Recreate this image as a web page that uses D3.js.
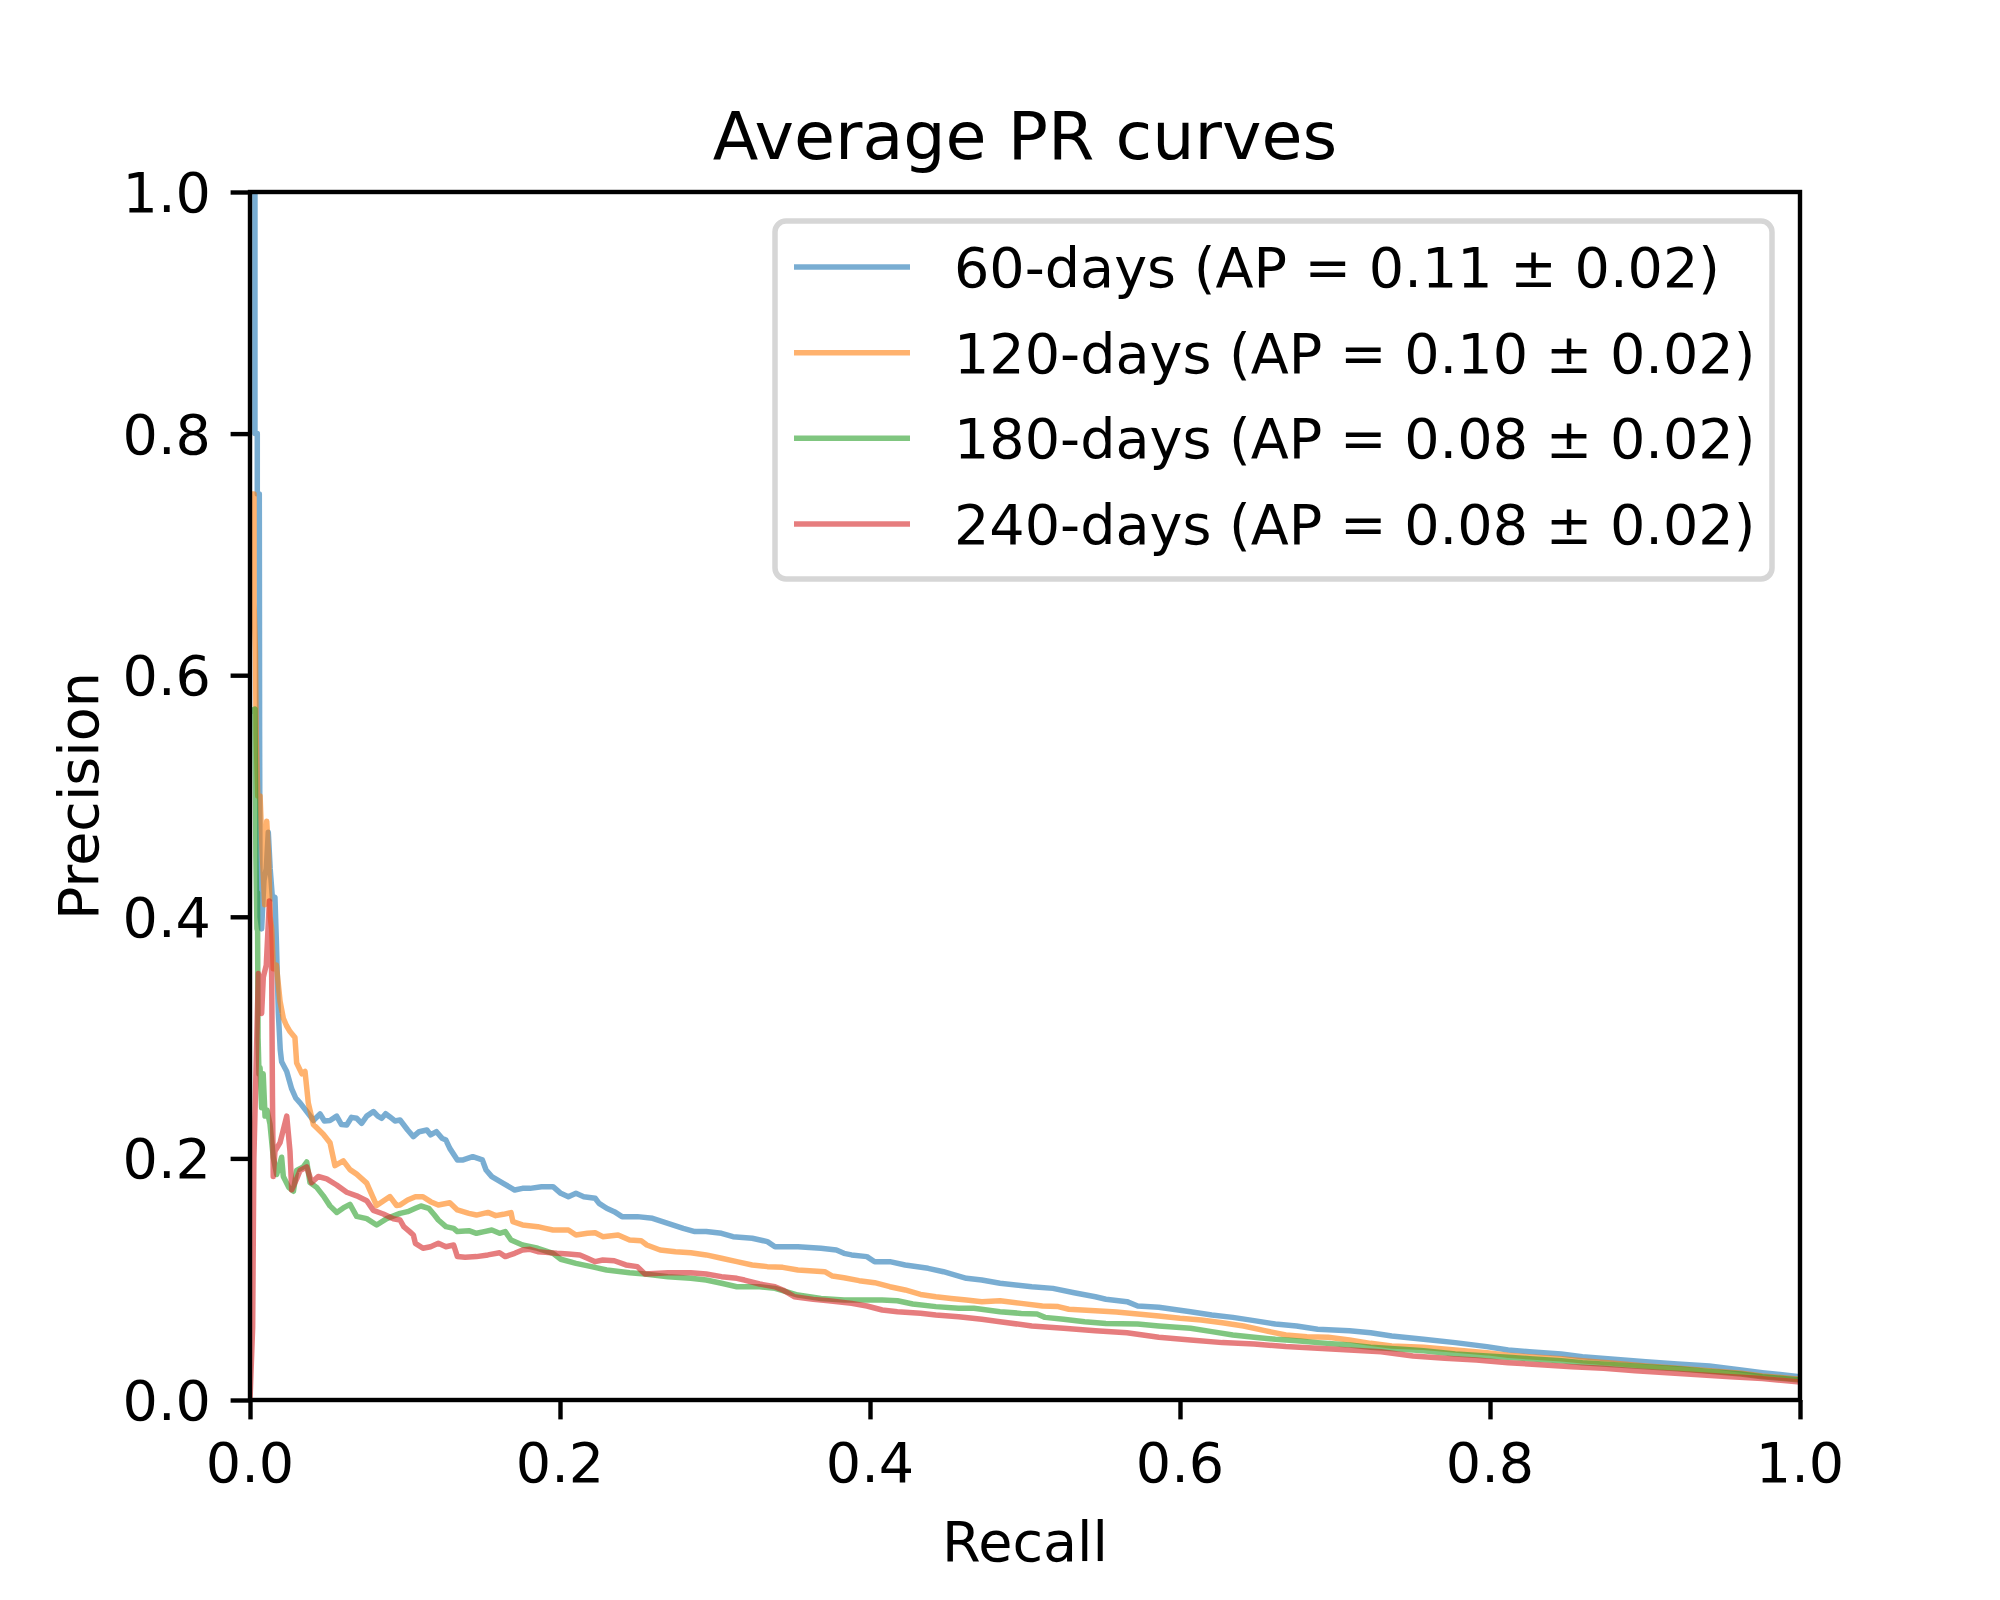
<!DOCTYPE html>
<html>
<head>
<meta charset="utf-8">
<script src="https://cdn.jsdelivr.net/npm/d3@7"></script>
<style>
  body { margin: 0; background: #fff; }
  text { font-family: "DejaVu Sans", sans-serif; fill: #000; }
</style>
</head>
<body>
<svg id="chart" width="2000" height="1600"></svg>
<script>
// [recall, precision]
const pr60 = [
  [0,1.0],[0.0032,1.0],[0.0032,0.80],[0.0047,0.80],[0.0047,0.75],[0.006,0.75],[0.0062,0.55],[0.0065,0.40],
  [0.0075,0.39],[0.009,0.43],[0.0105,0.44],[0.0118,0.47],[0.013,0.44],[0.0145,0.415],[0.0161,0.416],[0.017,0.38],
  [0.0183,0.32],[0.0195,0.29],[0.0204,0.28],[0.0237,0.272],[0.0269,0.2575],[0.0295,0.25],[0.0323,0.246],
  [0.0366,0.2388],[0.0409,0.2314],[0.0452,0.2369],[0.048,0.231],[0.0516,0.2314],[0.0559,0.235],[0.059,0.228],
  [0.0624,0.2277],[0.0655,0.234],[0.0688,0.2332],[0.072,0.229],[0.0753,0.235],[0.0796,0.2388],[0.0825,0.235],
  [0.085,0.2332],[0.0875,0.237],[0.0903,0.2343],[0.0935,0.231],
  [0.0968,0.2318],[0.1017,0.2235],[0.1054,0.218],[0.1091,0.2221],[0.1141,0.2235],[0.1165,0.2194],[0.1203,0.2221],
  [0.1239,0.2166],[0.1264,0.2152],[0.1289,0.2083],[0.1338,0.1987],[0.1375,0.1987],[0.1437,0.2014],[0.1499,0.1987],
  [0.1523,0.1904],[0.156,0.1849],[0.1634,0.1794],[0.1708,0.1738],[0.1758,0.1752],[0.1807,0.1752],[0.1881,0.1766],
  [0.1955,0.1766],[0.2005,0.1711],[0.2054,0.1683],[0.2103,0.1711],[0.2153,0.1683],[0.2227,0.167],[0.2252,0.1628],
  [0.2301,0.1587],[0.235,0.1559],[0.24,0.1518],[0.2499,0.1518],[0.2597,0.1504],[0.2696,0.1463],[0.2795,0.1421],
  [0.287,0.1394],[0.2943,0.1394],[0.3042,0.138],[0.3116,0.1352],[0.324,0.1339],[0.3338,0.1311],[0.3387,0.1269],
  [0.3535,0.1269],[0.3684,0.1256],[0.3783,0.1242],[0.3832,0.1214],[0.3881,0.1201],[0.398,0.1187],[0.403,0.1145],
  [0.4128,0.1145],[0.4227,0.1118],[0.4375,0.109],[0.4474,0.1062],[0.4622,0.1007],[0.4721,0.0993],
  [0.4839,0.0966],[0.5044,0.0938],[0.518,0.0924],[0.5317,0.0888],[0.5454,0.0855],[0.5522,0.0834],[0.5658,0.0814],
  [0.5727,0.0778],[0.5863,0.0767],[0.6068,0.0731],[0.6205,0.0704],[0.6341,0.0684],[0.6478,0.0657],[0.6615,0.0629],
  [0.6752,0.0613],[0.6888,0.0585],[0.7093,0.0574],[0.723,0.0557],[0.7366,0.053],[0.7571,0.0502],[0.7776,0.0475],
  [0.798,0.0442],[0.8117,0.0414],[0.8254,0.04],[0.8459,0.0381],[0.8596,0.0358],[0.8801,0.0337],[0.9005,0.0317],
  [0.921,0.0298],[0.9415,0.0281],[0.962,0.0248],[0.9757,0.0226],[1.0,0.0193]
];
const pr120 = [
  [0,0.75],[0.0026,0.75],[0.0026,0.66],[0.0035,0.62],[0.004,0.55],[0.005,0.50],[0.0065,0.50],[0.008,0.45],
  [0.0095,0.41],[0.0108,0.479],[0.012,0.45],[0.013,0.40],[0.014,0.39],[0.015,0.357],[0.017,0.36],[0.0194,0.33],
  [0.0215,0.316],[0.0235,0.31],[0.0258,0.305],[0.029,0.30],[0.0301,0.279],[0.0335,0.27],[0.0355,0.272],
  [0.0376,0.246],[0.0409,0.228],[0.0473,0.22],[0.0516,0.213],[0.0548,0.194],[0.0602,0.198],[0.0645,0.1907],
  [0.0688,0.187],[0.0753,0.1795],[0.0817,0.161],[0.086,0.1647],[0.0903,0.1684],[0.0946,0.161],
  [0.0968,0.1614],[0.1017,0.1656],[0.1067,0.1683],[0.1116,0.1683],[0.1165,0.1642],[0.1215,0.1614],[0.1289,0.1633],
  [0.1338,0.1573],[0.1412,0.1545],[0.1461,0.1531],[0.1535,0.1553],[0.1585,0.1526],[0.1634,0.1537],[0.1684,0.1551],
  [0.1696,0.1476],[0.1758,0.1449],[0.1857,0.1435],[0.1906,0.1421],[0.1955,0.1407],[0.2054,0.1407],[0.2103,0.1366],
  [0.2177,0.138],[0.2227,0.1385],[0.2276,0.1352],[0.2375,0.1366],[0.2449,0.1325],[0.2523,0.1319],[0.256,0.1283],
  [0.2646,0.1242],[0.2745,0.1228],[0.2844,0.1219],[0.2943,0.1201],[0.3042,0.1173],[0.3141,0.1145],[0.324,0.1118],
  [0.3338,0.1104],[0.3437,0.1098],[0.3535,0.1076],[0.3634,0.1068],[0.3708,0.1062],[0.3758,0.1026],[0.3832,0.1012],
  [0.393,0.0988],[0.403,0.0971],[0.4128,0.0938],[0.4227,0.0911],[0.4326,0.0874],[0.4425,0.0855],[0.4523,0.0841],
  [0.4622,0.0828],[0.4721,0.0814],
  [0.4839,0.0822],[0.4976,0.08],[0.5112,0.0778],[0.5214,0.0773],[0.5283,0.0751],[0.5454,0.0739],[0.559,0.0728],
  [0.5727,0.0712],[0.5863,0.0695],[0.6,0.0676],[0.6137,0.0662],[0.6273,0.064],[0.641,0.0613],[0.6547,0.0574],
  [0.6683,0.0538],[0.6819,0.0524],[0.6956,0.0519],[0.7093,0.0497],[0.723,0.0469],[0.7366,0.0447],[0.7571,0.0436],
  [0.7776,0.0414],[0.798,0.0392],[0.8117,0.037],[0.8254,0.0358],[0.8459,0.0342],[0.8596,0.0325],[0.8801,0.0304],
  [0.9005,0.0281],[0.921,0.0262],[0.9415,0.0243],[0.962,0.0221],[0.9757,0.0199],[1.0,0.0171]
];
const pr180 = [
  [0,0.57],[0.0032,0.572],[0.0038,0.45],[0.0045,0.39],[0.0048,0.42],[0.0052,0.30],[0.0058,0.27],[0.0065,0.275],
  [0.0075,0.242],[0.0085,0.27],[0.0097,0.235],[0.011,0.24],[0.0129,0.2285],[0.015,0.201],[0.0172,0.1867],
  [0.0204,0.201],[0.0215,0.185],[0.025,0.176],[0.028,0.1728],[0.0301,0.19],[0.0344,0.193],[0.0366,0.197],
  [0.0387,0.18],[0.043,0.176],[0.0473,0.169],[0.0516,0.1607],[0.056,0.1553],[0.0602,0.159],[0.0645,0.162],
  [0.0688,0.152],[0.0753,0.1501],[0.0817,0.1449],[0.0882,0.1501],
  [0.0968,0.1545],[0.1017,0.1559],[0.1067,0.1587],[0.1103,0.1606],[0.1153,0.1587],[0.119,0.1531],[0.1215,0.149],
  [0.1264,0.1435],[0.1314,0.1421],[0.1338,0.1394],[0.1412,0.1402],[0.1461,0.138],[0.1511,0.1394],[0.156,0.1407],
  [0.161,0.138],[0.1647,0.1394],[0.1684,0.1325],[0.1758,0.1283],[0.1857,0.1256],[0.1955,0.1214],[0.2005,0.1165],
  [0.2103,0.1131],[0.2203,0.1104],[0.2301,0.1076],[0.2449,0.1054],[0.2548,0.1043],[0.2696,0.1021],[0.2844,0.1007],
  [0.2943,0.0993],[0.3042,0.0966],[0.3141,0.0938],[0.3288,0.0938],[0.3387,0.0924],[0.3437,0.0905],[0.3535,0.0869],
  [0.3684,0.0841],[0.3832,0.0828],[0.393,0.0828],[0.4079,0.0828],[0.4177,0.0822],[0.4276,0.0795],[0.4425,0.0773],
  [0.4572,0.0759],[0.4671,0.0759],
  [0.4839,0.0731],[0.4976,0.0717],[0.5078,0.0712],[0.5129,0.0684],[0.5249,0.0668],[0.5385,0.0648],[0.5522,0.0634],
  [0.5727,0.0629],[0.5863,0.0613],[0.6068,0.0594],[0.6205,0.0566],[0.6341,0.0538],[0.6478,0.0519],[0.6615,0.0502],
  [0.6752,0.0491],[0.6888,0.0475],[0.7093,0.0455],[0.723,0.0436],[0.7434,0.042],[0.7571,0.0408],[0.7776,0.0381],
  [0.798,0.0364],[0.8117,0.0353],[0.8254,0.0342],[0.8459,0.0325],[0.8596,0.0309],[0.8801,0.0292],[0.9005,0.0276],
  [0.921,0.0259],[0.9415,0.0237],[0.962,0.0215],[0.9757,0.0193],[1.0,0.0166]
];
const pr240 = [
  [0,0],[0.0017,0.06],[0.0025,0.2],[0.0054,0.353],[0.0065,0.33],[0.0075,0.32],[0.0086,0.35],[0.0105,0.36],
  [0.0125,0.413],[0.0135,0.38],[0.014,0.35],[0.0145,0.25],[0.015,0.185],[0.0161,0.206],[0.0194,0.213],
  [0.0237,0.235],[0.0258,0.206],[0.0269,0.174],[0.0301,0.183],[0.0323,0.19],[0.0366,0.193],[0.0398,0.18],
  [0.044,0.185],[0.0495,0.183],[0.0559,0.178],[0.0624,0.172],[0.0688,0.169],[0.0753,0.165],[0.0796,0.157],
  [0.086,0.154],[0.0925,0.15],
  [0.0968,0.149],[0.0992,0.1435],[0.103,0.1394],[0.1054,0.1366],[0.1067,0.1297],[0.1116,0.1256],[0.1165,0.1269],
  [0.1215,0.1297],[0.1264,0.1269],[0.1314,0.1283],[0.1338,0.1187],[0.1388,0.1181],[0.1461,0.1187],[0.1535,0.1201],
  [0.161,0.1219],[0.1647,0.1187],[0.1708,0.1214],[0.1758,0.1242],[0.1807,0.1247],[0.1857,0.1228],[0.1906,0.1222],
  [0.198,0.1214],[0.2054,0.1209],[0.2128,0.1201],[0.2177,0.1173],[0.2227,0.1145],[0.2276,0.1159],[0.235,0.1153],
  [0.2425,0.1118],[0.2499,0.1104],[0.2548,0.1043],[0.2696,0.1054],[0.2844,0.1054],[0.2943,0.1043],[0.3042,0.1021],
  [0.3141,0.1007],[0.319,0.0993],[0.3288,0.096],[0.3387,0.0938],[0.3437,0.0911],[0.3511,0.0855],[0.3634,0.0833],
  [0.3733,0.0822],[0.3881,0.08],[0.398,0.0778],[0.4079,0.0745],[0.4177,0.0731],[0.4326,0.0718],[0.4425,0.0704],
  [0.4572,0.069],[0.4721,0.0668],
  [0.4839,0.0648],[0.5044,0.0613],[0.5249,0.0594],[0.5454,0.0574],[0.5658,0.0557],[0.5863,0.0519],[0.6068,0.0497],
  [0.6273,0.0475],[0.6478,0.0464],[0.6683,0.0442],[0.6888,0.0428],[0.7093,0.0414],[0.7298,0.04],[0.7503,0.0364],
  [0.7708,0.0345],[0.7912,0.0331],[0.8117,0.0309],[0.8323,0.0292],[0.8527,0.0276],[0.8732,0.0262],[0.8937,0.0243],
  [0.9142,0.0226],[0.9347,0.021],[0.9552,0.0193],[0.9757,0.0177],[1.0,0.0149]
];

const seriesNames = [
  '60-days (AP = 0.11 \u00b1 0.02)',
  '120-days (AP = 0.10 \u00b1 0.02)',
  '180-days (AP = 0.08 \u00b1 0.02)',
  '240-days (AP = 0.08 \u00b1 0.02)'
];
const seriesData = [pr60, pr120, pr180, pr240];
const colors = ['#1f77b4', '#ff7f0e', '#2ca02c', '#d62728'];
const tickValues = [0, 0.2, 0.4, 0.6, 0.8, 1.0];
const tickLabels = ['0.0', '0.2', '0.4', '0.6', '0.8', '1.0'];

const svg = d3.select('#chart');
const margin = { top: 192, right: 200, bottom: 200, left: 250 };
const width = 2000, height = 1600;
const innerWidth = width - margin.left - margin.right;
const innerHeight = height - margin.top - margin.bottom;

const xScale = d3.scaleLinear().domain([0, 1]).range([margin.left, margin.left + innerWidth]);
const yScale = d3.scaleLinear().domain([0, 1]).range([margin.top + innerHeight, margin.top]);

svg.append('defs').append('clipPath').attr('id', 'plot-clip')
  .append('rect')
  .attr('x', margin.left).attr('y', margin.top)
  .attr('width', innerWidth).attr('height', innerHeight);

// curves
const line = d3.line()
  .x(d => xScale(d[0]))
  .y(d => yScale(d[1]));

svg.append('g').attr('clip-path', 'url(#plot-clip)')
  .selectAll('path')
  .data(seriesData)
  .enter()
  .append('path')
  .attr('fill', 'none')
  .attr('stroke', (d, i) => colors[i])
  .attr('stroke-opacity', 0.6)
  .attr('stroke-width', 5.5)
  .attr('stroke-linejoin', 'round')
  .attr('d', line);

// tick marks
const xAxis = svg.append('g')
  .attr('transform', `translate(0,${margin.top + innerHeight})`)
  .call(d3.axisBottom(xScale).tickValues(tickValues).tickFormat('').tickSize(19.4));
const yAxis = svg.append('g')
  .attr('transform', `translate(${margin.left},0)`)
  .call(d3.axisLeft(yScale).tickValues(tickValues).tickFormat('').tickSize(19.4));

[xAxis, yAxis].forEach(a => {
  a.select('.domain').remove();
  a.selectAll('.tick text').remove();
  a.selectAll('.tick line').attr('stroke', '#000').attr('stroke-width', 4.4);
});

// tick labels
svg.append('g').selectAll('text')
  .data(tickValues)
  .enter()
  .append('text')
  .attr('x', d => xScale(d))
  .attr('y', margin.top + innerHeight + 82)
  .attr('text-anchor', 'middle')
  .attr('font-size', 55.6)
  .text((d, i) => tickLabels[i]);

svg.append('g').selectAll('text')
  .data(tickValues)
  .enter()
  .append('text')
  .attr('x', margin.left - 39)
  .attr('y', d => yScale(d) + 20)
  .attr('text-anchor', 'end')
  .attr('font-size', 55.6)
  .text((d, i) => tickLabels[i]);

// frame
svg.append('rect')
  .attr('x', margin.left).attr('y', margin.top)
  .attr('width', innerWidth)
  .attr('height', innerHeight)
  .attr('fill', 'none')
  .attr('stroke', '#000')
  .attr('stroke-width', 4.4);

// labels
svg.append('text')
  .attr('x', margin.left + innerWidth / 2)
  .attr('y', 159)
  .attr('text-anchor', 'middle')
  .attr('font-size', 66.7)
  .text('Average PR curves');

svg.append('text')
  .attr('x', margin.left + innerWidth / 2)
  .attr('y', 1561)
  .attr('text-anchor', 'middle')
  .attr('font-size', 55.6)
  .text('Recall');

svg.append('text')
  .attr('transform', `translate(98,${margin.top + innerHeight / 2}) rotate(-90)`)
  .attr('text-anchor', 'middle')
  .attr('font-size', 55.6)
  .text('Precision');

// legend
const legend = svg.append('g');
legend.append('rect')
  .attr('x', 775).attr('y', 221)
  .attr('width', 997).attr('height', 358)
  .attr('rx', 11).attr('ry', 11)
  .attr('fill', '#fff').attr('fill-opacity', 0.8)
  .attr('stroke', '#d6d6d6').attr('stroke-width', 5.5);

const rowY = d3.scaleLinear().domain([0, 3]).range([267, 524]);
const items = legend.selectAll('g.item')
  .data(seriesNames)
  .enter()
  .append('g')
  .attr('class', 'item')
  .attr('transform', (d, i) => `translate(0,${rowY(i)})`);

items.append('line')
  .attr('x1', 794).attr('x2', 910)
  .attr('stroke', (d, i) => colors[i])
  .attr('stroke-opacity', 0.6)
  .attr('stroke-width', 5.5);

items.append('text')
  .attr('x', 954)
  .attr('y', 20)
  .attr('font-size', 55.6)
  .text(d => d);
</script>
</body>
</html>
